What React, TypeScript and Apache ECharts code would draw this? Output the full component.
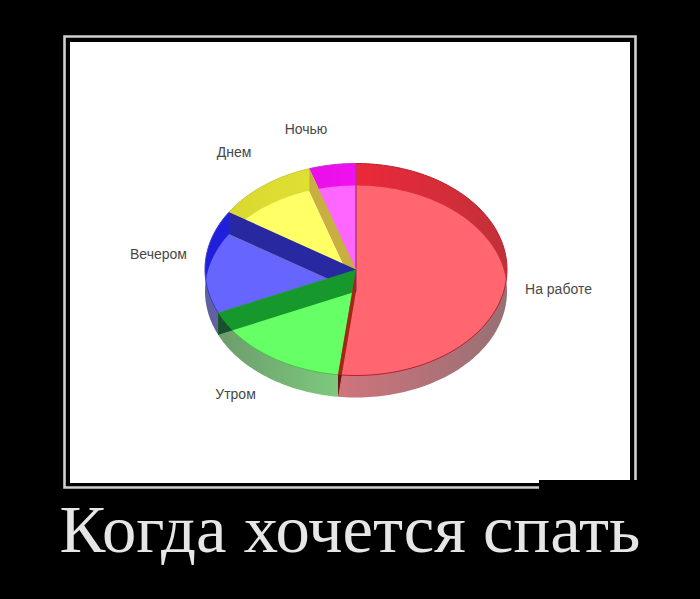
import React, { useEffect, useRef } from "react";
import * as echarts from "echarts";

const categories = ["На работе", "Утром", "Вечером", "Днем", "Ночью"];
const shares = [51.9, 16.4, 15.8, 10.9, 5.0];
const caption = "Когда хочется спать";

const faceColors = ["#ff6670", "#66ff66", "#6666ff", "#ffff66", "#ff66ff"];
const backColors: [string, string][] = [
  ["#f0283a", "#c23038"],
  ["#22aa33", "#22aa33"],
  ["#2020dc", "#2020dc"],
  ["#d8d830", "#e4e434"],
  ["#e810e8", "#f010f0"],
];
const frontColors: [string, string][] = [
  ["#d0747c", "#967074"],
  ["#6c9c6c", "#80d080"],
  ["#6060a0", "#7878b0"],
  ["#cccc66", "#cccc66"],
  ["#cc66cc", "#cc66cc"],
];
const edgeColors = ["#b82030", "#50c050", "#3c3cc0", "#c8c840", "#c830c8"];
const wallColors = ["#9c2a14", "#16982c", "#2828a0", "#c8b040", "#b83868"];
const wallDarkColors = ["#6a1a14", "#184f2c", "#22226a", "#a09030", "#a03050"];
const labelPositions = [
  [558.5, 289],
  [235.5, 394],
  [158.5, 254],
  [234, 152],
  [306, 129],
];

const CX = 356;
const RX = 151;
const RY = 106;
const TOP_Y = 269.5;
const BOTTOM_Y = 291.5;
const RAD = Math.PI / 180;
const SIDE_COS = (BOTTOM_Y - TOP_Y) / 2 / RY;

const onEllipse = (cy: number, deg: number) => [
  CX + RX * Math.sin(deg * RAD),
  cy - RY * Math.cos(deg * RAD),
];
const lensPoint = (deg: number) => {
  const c = Math.cos(deg * RAD);
  if (c > SIDE_COS) return onEllipse(BOTTOM_Y, deg);
  if (c < -SIDE_COS) return onEllipse(TOP_Y, deg);
  const s = Math.sin(deg * RAD) >= 0 ? 1 : -1;
  return [CX + s * RX * Math.sqrt(1 - SIDE_COS * SIDE_COS), (TOP_Y + BOTTOM_Y) / 2];
};
const sweep = (a: number, b: number, fn: (deg: number) => number[]) => {
  const pts: number[][] = [];
  const n = Math.max(2, Math.ceil(Math.abs(b - a) / 1.5));
  for (let i = 0; i <= n; i++) pts.push(fn(a + ((b - a) * i) / n));
  return pts;
};
const isFront = (deg: number) => Math.cos(deg * RAD) < 0;
const sideways = (pair: [string, string]) =>
  new echarts.graphic.LinearGradient(0, 0, 1, 0, [
    { offset: 0, color: pair[0] },
    { offset: 1, color: pair[1] },
  ]);

const renderSlice = (_params: any, api: any) => {
  const i = api.value(0);
  const before = shares.slice(0, i).reduce((s, v) => s + v, 0);
  const a = (before / 100) * 360;
  const b = ((before + api.value(1)) / 100) * 360;
  const poly = (points: number[][], style: any, z2: number) => ({
    type: "polygon",
    z2,
    shape: { points },
    style,
    silent: true,
  });
  const children: any[] = [];

  // outer wall seen below the top ellipse
  children.push(
    poly(
      [[CX, BOTTOM_Y], ...sweep(a, b, (d) => onEllipse(BOTTOM_Y, d))],
      { fill: sideways(frontColors[i]) },
      1,
    ),
  );
  // rim at the back, outside the bottom ellipse
  children.push(
    poly(
      [[CX, TOP_Y], ...sweep(a, b, (d) => onEllipse(TOP_Y, d))],
      { fill: sideways(backColors[i]) },
      2,
    ),
  );
  // face inside both ellipses
  children.push(
    poly(
      [
        [CX, isFront(a) ? TOP_Y : BOTTOM_Y],
        ...sweep(a, b, lensPoint),
        [CX, isFront(b) ? TOP_Y : BOTTOM_Y],
      ],
      { fill: faceColors[i] },
      3,
    ),
  );
  // edge of the top ellipse
  children.push({
    type: "polyline",
    z2: 5,
    silent: true,
    shape: { points: sweep(a, b, (d) => onEllipse(TOP_Y, d)) },
    style: { fill: "none", stroke: edgeColors[i], lineWidth: 1 },
  });

  // radial wall at the slice's end
  const wallZ = 10 + (categories.length - i);
  const t = onEllipse(TOP_Y, b % 360);
  const l = onEllipse(BOTTOM_Y, b % 360);
  const isSeam = i === categories.length - 1;
  children.push(
    poly(
      [[CX, TOP_Y], t, l, [CX, BOTTOM_Y]],
      isSeam
        ? { fill: wallColors[i], stroke: wallColors[i], lineWidth: 1 }
        : { fill: wallColors[i] },
      wallZ,
    ),
  );
  // the part of that wall in front of the outer wall
  if (isFront(b % 360)) {
    let cross = l;
    let crossDeg = b;
    for (let k = 0; k <= 200; k++) {
      const x = l[0] + ((CX - l[0]) * k) / 200;
      const y = l[1] + ((BOTTOM_Y - l[1]) * k) / 200;
      const ex = (x - CX) / RX;
      const ey = (y - TOP_Y) / RY;
      if (ex * ex + ey * ey <= 1) {
        cross = [x, y];
        crossDeg = (Math.atan2(ex, -ey) / RAD + 360) % 360;
        break;
      }
    }
    children.push(
      poly(
        [...sweep(b, crossDeg, (d) => onEllipse(TOP_Y, d)), cross, l],
        { fill: wallDarkColors[i] },
        wallZ + 0.5,
      ),
    );
  }

  const [lx, ly] = labelPositions[i];
  children.push({
    type: "text",
    z2: 30,
    x: lx,
    y: ly,
    silent: true,
    style: {
      text: categories[i],
      fill: "#484848",
      font: '14px "Liberation Sans"',
      align: "center",
      verticalAlign: "middle",
    },
  });
  return { type: "group", children };
};

export default function App() {
  const ref = useRef<HTMLDivElement>(null);
  useEffect(() => {
    const chart = echarts.init(ref.current!, null, { renderer: "svg" });
    chart.setOption({
      animation: false,
      backgroundColor: "#000000",
      graphic: [
        {
          type: "rect",
          z: -2,
          shape: { x: 64.5, y: 36.5, width: 571, height: 451 },
          style: { fill: "none", stroke: "#d0d0d0", lineWidth: 2.6 },
        },
        {
          type: "rect",
          z: -1,
          shape: { x: 70, y: 42, width: 560, height: 441 },
          style: { fill: "#ffffff" },
        },
        {
          type: "rect",
          z: 5,
          shape: { x: 539, y: 480, width: 101, height: 12 },
          style: { fill: "#000000" },
        },
        {
          type: "text",
          z: 5,
          x: 350,
          y: 529,
          style: {
            text: caption,
            fill: "#e6e6e6",
            font: '68.7px "Liberation Serif"',
            align: "center",
            verticalAlign: "middle",
          },
        },
      ],
      series: [
        {
          type: "custom",
          coordinateSystem: "none",
          renderItem: renderSlice,
          silent: true,
          data: shares.map((v, i) => [i, v]),
          encode: { value: [1] },
        },
      ],
    });
    return () => chart.dispose();
  }, []);
  return <div ref={ref} style={{ position: "fixed", left: 0, top: 0, width: 700, height: 599 }} />;
}
